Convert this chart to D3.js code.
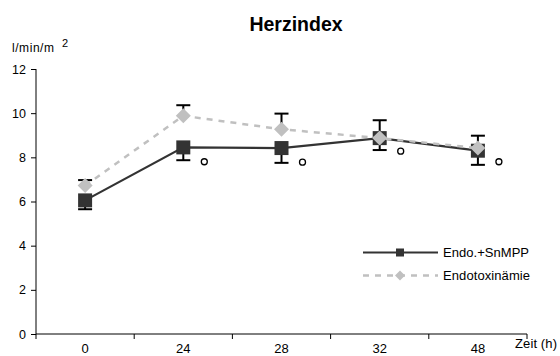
<!DOCTYPE html>
<html><head><meta charset="utf-8">
<script src="https://cdn.jsdelivr.net/npm/d3@7"></script>
<style>body{margin:0;background:#fff}text{font-family:"Liberation Sans",Arial,sans-serif}</style>
</head><body><svg id="c" width="560" height="356"></svg>
<script>
const categories = ["0","24","28","32","48"];
const yTicks = [0,2,4,6,8,10,12];
const snmppValues = [6.05, 8.45, 8.42, 8.87, 8.3];
const snmppLower = [5.65, 7.87, 7.75, 8.33, 7.66];
const endoValues = [6.72, 9.88, 9.27, 8.87, 8.42];
const endoUpper = [6.97, 10.36, 9.98, 9.68, 8.98];
const sigMarks = [null, 7.8, 7.78, 8.28, 7.8];
const seriesNames = ["Endo.+SnMPP","Endotoxinämie"];

const svg = d3.select("#c");
const x = d3.scaleBand().domain(categories).range([36,527]);
const y = d3.scaleLinear().domain([0,12]).range([334,69]);
const cx = d => x(d) + x.bandwidth()/2;

svg.append("text").attr("x",296).attr("y",31).attr("text-anchor","middle")
  .attr("font-size",19.5).attr("font-weight","bold").text("Herzindex");
svg.append("text").attr("x",12).attr("y",52).attr("font-size",12).attr("textLength",42).text("l/min/m");
svg.append("text").attr("x",62).attr("y",47).attr("font-size",11).text("2");

// axes
const ya = svg.append("g").attr("transform","translate(36,0)")
  .call(d3.axisLeft(y).tickValues(yTicks).tickSize(5).tickFormat(d3.format("d")));
ya.select(".domain").attr("stroke","#000").attr("d","M0,69V334");
ya.selectAll(".tick line").attr("stroke","#000");
ya.selectAll(".tick text").attr("font-size",12.5).attr("x",-10).attr("font-family","Liberation Sans, Arial");

const xa = svg.append("g").attr("transform","translate(0,334)")
  .call(d3.axisBottom(x).tickSize(0).tickPadding(0));
xa.select(".domain").attr("stroke","#000").attr("d","M36,0H527");
xa.selectAll(".tick text").attr("font-size",13).attr("y",18.5).attr("dy",0).attr("font-family","Liberation Sans, Arial");
const bounds = categories.map(c=>x(c)).concat([x(categories[categories.length-1])+x.bandwidth()]);
svg.append("g").selectAll("line").data(bounds).join("line")
  .attr("x1",d=>d).attr("x2",d=>d).attr("y1",334).attr("y2",339).attr("stroke","#000");
svg.append("text").attr("x",515).attr("y",348).attr("font-size",13).attr("textLength",42).text("Zeit (h)");

// SnMPP series
const line = d3.line().x((d,i)=>cx(categories[i])).y(d=>y(d));
svg.append("path").datum(snmppValues).attr("d",line).attr("fill","none")
  .attr("stroke","#333").attr("stroke-width",2.2);
const eb = svg.append("g").attr("stroke","#000").attr("stroke-width",2);
categories.forEach((c,i)=>{
  eb.append("line").attr("x1",cx(c)).attr("x2",cx(c)).attr("y1",y(snmppValues[i])).attr("y2",y(snmppLower[i]));
  eb.append("line").attr("x1",cx(c)-7).attr("x2",cx(c)+7).attr("y1",y(snmppLower[i])).attr("y2",y(snmppLower[i]));
});
svg.append("g").selectAll("rect").data(snmppValues).join("rect")
  .attr("x",(d,i)=>cx(categories[i])-7).attr("y",d=>y(d)-7).attr("width",14).attr("height",14).attr("fill","#333");

// Endotoxinämie series
svg.append("path").datum(endoValues).attr("d",line).attr("fill","none")
  .attr("stroke","#c0c0c0").attr("stroke-width",2.5).attr("stroke-dasharray","6,6");
const eb2 = svg.append("g").attr("stroke","#000").attr("stroke-width",2);
categories.forEach((c,i)=>{
  eb2.append("line").attr("x1",cx(c)).attr("x2",cx(c)).attr("y1",y(endoValues[i])).attr("y2",y(endoUpper[i]));
  eb2.append("line").attr("x1",cx(c)-7).attr("x2",cx(c)+7).attr("y1",y(endoUpper[i])).attr("y2",y(endoUpper[i]));
});
const diamond = (px,py,r)=>`M${px},${py-r}L${px+r},${py}L${px},${py+r}L${px-r},${py}Z`;
svg.append("g").selectAll("path").data(endoValues).join("path")
  .attr("d",(d,i)=>diamond(cx(categories[i]),y(d),7.5)).attr("fill","#c0c0c0");

// significance markers
svg.append("g").selectAll("circle").data(sigMarks.map((v,i)=>({v,i})).filter(d=>d.v!=null)).join("circle")
  .attr("cx",d=>cx(categories[d.i])+21).attr("cy",d=>y(d.v)).attr("r",3)
  .attr("fill","none").attr("stroke","#000").attr("stroke-width",1.3);

// legend
const lg = svg.append("g");
lg.append("line").attr("x1",363).attr("x2",438).attr("y1",252.5).attr("y2",252.5).attr("stroke","#333").attr("stroke-width",2.2);
lg.append("rect").attr("x",396).attr("y",248.5).attr("width",8).attr("height",8).attr("fill","#333");
lg.append("text").attr("x",443).attr("y",257).attr("font-size",13).attr("textLength",86).text(seriesNames[0]);
lg.append("line").attr("x1",363).attr("x2",438).attr("y1",275.5).attr("y2",275.5).attr("stroke","#c0c0c0").attr("stroke-width",2.5).attr("stroke-dasharray","6,6");
lg.append("path").attr("d",diamond(400,275.5,5)).attr("fill","#c0c0c0");
lg.append("text").attr("x",443).attr("y",280).attr("font-size",13).attr("textLength",87).text(seriesNames[1]);
</script></body></html>
